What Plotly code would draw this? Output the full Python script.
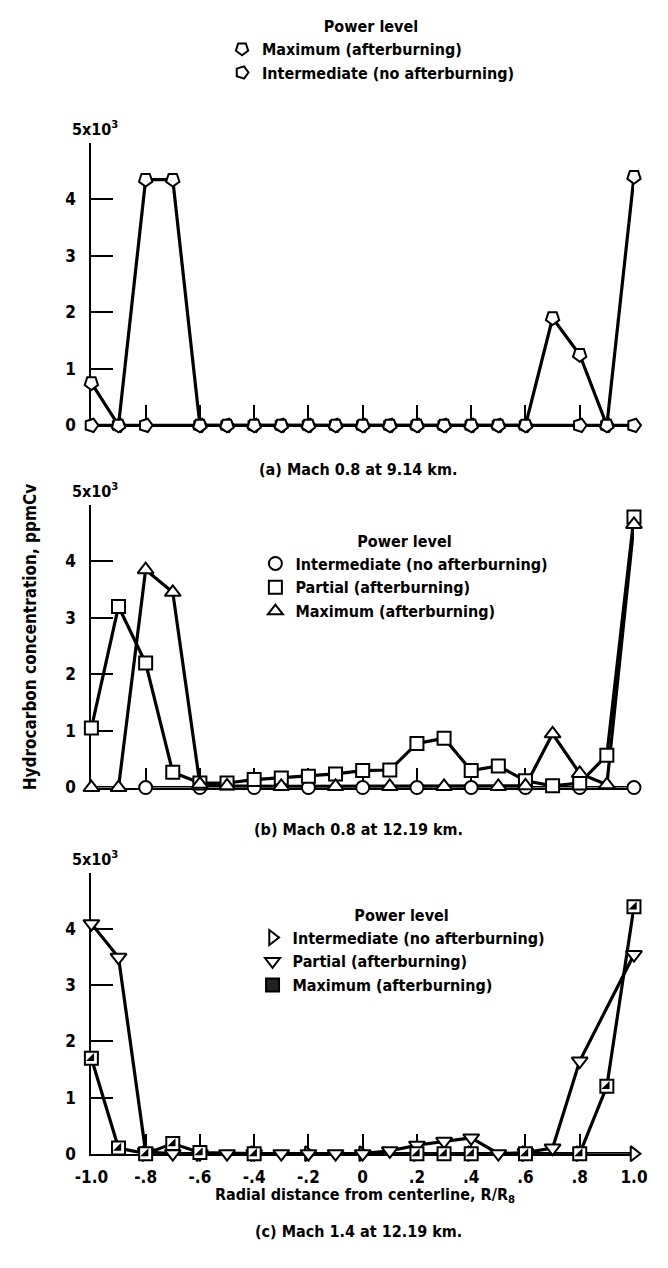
import plotly.graph_objects as go

W, H = 668, 1268

# ---------------- data (hydrocarbon concentration, thousands of ppmCv) ----------------
radial_positions = [-1.0, -0.9, -0.8, -0.7, -0.6, -0.5, -0.4, -0.3, -0.2, -0.1, 0.0,
                    0.1, 0.2, 0.3, 0.4, 0.5, 0.6, 0.7, 0.8, 0.9, 1.0]

# (a) Mach 0.8 at 9.14 km
a_max_x = radial_positions
a_max_y = [0.75, 0.0, 4.35, 4.35, 0.0, 0.0, 0.0, 0.0, 0.0, 0.0, 0.0,
           0.0, 0.0, 0.0, 0.0, 0.0, 0.0, 1.9, 1.25, 0.0, 4.4]
a_int_x = [-1.0, -0.9, -0.8, -0.6, -0.5, -0.4, -0.3, -0.2, -0.1, 0.0,
           0.1, 0.2, 0.3, 0.4, 0.5, 0.6, 0.8, 0.9, 1.0]
a_int_y = [0.0, 0.0, 0.0, 0.0, 0.0, 0.0, 0.0, 0.0, 0.0, 0.0,
           0.0, 0.0, 0.0, 0.0, 0.0, 0.0, 0.0, 0.0, 0.0]

# (b) Mach 0.8 at 12.19 km
b_int_x = [-0.8, -0.6, -0.4, -0.2, 0.0, 0.2, 0.4, 0.6, 0.8, 1.0]
b_int_y = [0.0, 0.0, 0.0, 0.0, 0.0, 0.0, 0.0, 0.0, 0.0, 0.0]
b_par_x = radial_positions
b_par_y = [1.05, 3.2, 2.2, 0.27, 0.08, 0.08, 0.14, 0.17, 0.2, 0.24, 0.3,
           0.31, 0.78, 0.87, 0.3, 0.38, 0.12, 0.03, 0.08, 0.57, 4.78]
b_max_x = [-1.0, -0.9, -0.8, -0.7, -0.6, -0.5, -0.3, -0.1, 0.1, 0.3, 0.5, 0.6,
           0.7, 0.8, 0.9, 1.0]
b_max_y = [0.0, 0.0, 3.85, 3.45, 0.06, 0.03, 0.02, 0.02, 0.02, 0.02, 0.02, 0.03,
           0.95, 0.25, 0.05, 4.65]

# (c) Mach 1.4 at 12.19 km
c_int_x = [-0.8, -0.6, -0.4, -0.2, 0.0, 0.2, 0.4, 0.6, 0.8, 1.0]
c_int_y = [0.0, 0.0, 0.0, 0.0, 0.0, 0.0, 0.0, 0.0, 0.0, 0.0]
c_par_x = [-1.0, -0.9, -0.8, -0.7, -0.6, -0.5, -0.4, -0.3, -0.2, -0.1, 0.0,
           0.1, 0.2, 0.3, 0.4, 0.5, 0.6, 0.7, 0.8, 1.0]
c_par_y = [4.1, 3.5, 0.03, 0.0, 0.0, 0.0, 0.0, 0.0, 0.0, 0.0, 0.0,
           0.05, 0.15, 0.22, 0.28, 0.0, 0.02, 0.1, 1.65, 3.55]
c_max_x = [-1.0, -0.9, -0.8, -0.7, -0.6, -0.4, 0.2, 0.3, 0.4, 0.6, 0.8, 0.9, 1.0]
c_max_y = [1.7, 0.1, 0.0, 0.18, 0.02, 0.0, 0.0, 0.0, 0.0, 0.0, 0.0, 1.2, 4.4]

x_tick_vals = [-1.0, -0.8, -0.6, -0.4, -0.2, 0.0, 0.2, 0.4, 0.6, 0.8, 1.0]
x_tick_text = ["-1.0", "-.8", "-.6", "-.4", "-.2", "0", ".2", ".4", ".6", ".8", "1.0"]
y_tick_vals = [0, 1, 2, 3, 4, 5]
y_tick_text = ["0", "1", "2", "3", "4", " "]

# ---------------- styling ----------------
FONT = "DejaVu Sans Condensed, Liberation Sans Narrow, sans-serif"
BLACK = "black"
LW = 3.2
MS = 13
TXT = 16


def px_x(p):
    return p / W


def px_y(p):
    return 1 - p / H


def tfont(size=TXT):
    return dict(family=FONT, size=size, color=BLACK, weight="bold")


fig = go.Figure()


def line_trace(x, y, ax):
    fig.add_trace(go.Scatter(x=x, y=y, mode="lines", xaxis=ax[0], yaxis=ax[1],
                             line=dict(color=BLACK, width=LW), showlegend=False,
                             cliponaxis=False, hoverinfo="skip"))


def marker_trace(x, y, ax, symbol, angle=0, size=MS, color="white", lw=2):
    fig.add_trace(go.Scatter(x=x, y=y, mode="markers", xaxis=ax[0], yaxis=ax[1],
                             marker=dict(symbol=symbol, angle=angle, size=size, color=color,
                                         line=dict(color=BLACK, width=lw)),
                             showlegend=False, cliponaxis=False))


def legend_trace(name, legend, symbol, angle=0, size=MS, color="white"):
    fig.add_trace(go.Scatter(x=[None], y=[None], mode="markers", name=name, legend=legend,
                             marker=dict(symbol=symbol, angle=angle, size=size, color=color,
                                         line=dict(color=BLACK, width=2)),
                             showlegend=True))


A = ("x", "y")
B = ("x2", "y2")
C = ("x3", "y3")

# panel a
line_trace(a_int_x, a_int_y, A)
line_trace(a_max_x, a_max_y, A)
marker_trace(a_int_x, a_int_y, A, "pentagon", angle=90, size=14)
marker_trace(a_max_x, a_max_y, A, "pentagon", angle=180, size=14)

# panel b
line_trace(b_int_x, b_int_y, B)
line_trace(b_par_x, b_par_y, B)
line_trace(b_max_x, b_max_y, B)
marker_trace(b_int_x, b_int_y, B, "circle", size=13)
marker_trace(b_par_x, b_par_y, B, "square", size=13)
marker_trace(b_max_x, b_max_y, B, "triangle-up", size=14)

# panel c
line_trace(c_int_x, c_int_y, C)
line_trace(c_par_x, c_par_y, C)
line_trace(c_max_x, c_max_y, C)
marker_trace(c_int_x, c_int_y, C, "triangle-right", size=13)
marker_trace(c_par_x, c_par_y, C, "triangle-down", size=14)
marker_trace(c_max_x, c_max_y, C, "square", size=13)
marker_trace(c_max_x, c_max_y, C, "triangle-se", size=9, color=BLACK, lw=0)

# legends
legend_trace("Maximum (afterburning)", "legend", "pentagon", angle=180)
legend_trace("Intermediate (no afterburning)", "legend", "pentagon", angle=90)
legend_trace("Intermediate (no afterburning)", "legend2", "circle")
legend_trace("Partial (afterburning)", "legend2", "square")
legend_trace("Maximum (afterburning)", "legend2", "triangle-up")
legend_trace("Intermediate (no afterburning)", "legend3", "triangle-right")
legend_trace("Partial (afterburning)", "legend3", "triangle-down")
legend_trace("Maximum (afterburning)", "legend3", "square", color="#222222")

# ---------------- axes ----------------
X_DOMAIN = [px_x(78), px_x(647)]
panels = {
    "a": (422, 135),
    "b": (790, 502.5),
    "c": (1162, 877),
}


def xaxis_cfg(show_labels):
    return dict(domain=X_DOMAIN, range=[-1.0, 1.0], showgrid=False, zeroline=False,
                showline=True, linecolor=BLACK, linewidth=2,
                ticks="inside", ticklen=20, tickwidth=1.5, tickcolor=BLACK,
                tickvals=x_tick_vals, ticktext=x_tick_text, showticklabels=show_labels,
                tickfont=tfont(17), ticklabelstandoff=7, layer="below traces", fixedrange=True)


def yaxis_cfg(bottom, top, anchor):
    return dict(domain=[px_y(bottom), px_y(top)], range=[0, 5], anchor=anchor,
                showgrid=False, zeroline=False, showline=True, linecolor=BLACK, linewidth=2,
                ticks="inside", ticklen=22, tickwidth=2, tickcolor=BLACK,
                tickvals=y_tick_vals, ticktext=y_tick_text, tickfont=tfont(17),
                ticklabelstandoff=10, layer="below traces", fixedrange=True)


fig.update_layout(
    xaxis=dict(xaxis_cfg(False), anchor="y"),
    yaxis=yaxis_cfg(*panels["a"], "x"),
    xaxis2=dict(xaxis_cfg(False), anchor="y2"),
    yaxis2=yaxis_cfg(*panels["b"], "x2"),
    xaxis3=dict(xaxis_cfg(True), anchor="y3"),
    yaxis3=yaxis_cfg(*panels["c"], "x3"),
)

legend_common = dict(xanchor="left", yanchor="top", bgcolor="rgba(0,0,0,0)",
                     font=tfont(), title=dict(text="Power level", side="top center", font=tfont()),
                     itemwidth=30, tracegroupgap=0, traceorder="normal")

fig.update_layout(
    legend=dict(legend_common, x=px_x(215), y=px_y(1)),
    legend2=dict(legend_common, x=px_x(250), y=px_y(524)),
    legend3=dict(legend_common, x=px_x(247), y=px_y(904)),
)

# ---------------- annotations ----------------
ann = []
for key in ("a", "b", "c"):
    bottom, top = panels[key]
    ann.append(dict(text="5x10<sup>3</sup>", x=px_x(56), y=px_y(top - 2), xref="paper", yref="paper",
                    xanchor="left", yanchor="bottom", showarrow=False, font=tfont(16)))

captions = [
    ("(a) Mach 0.8 at 9.14 km.", 467),
    ("(b) Mach 0.8 at 12.19 km.", 833),
    ("(c) Mach 1.4 at 12.19 km.", 1241),
]
for text, yp in captions:
    ann.append(dict(text=text, x=px_x(358), y=px_y(yp), xref="paper", yref="paper",
                    xanchor="center", yanchor="middle", showarrow=False, font=tfont()))

ann.append(dict(text="Radial distance from centerline, R/R<sub>8</sub>", x=px_x(365), y=px_y(1205),
                xref="paper", yref="paper", xanchor="center", yanchor="middle", showarrow=False,
                font=tfont()))
ann.append(dict(text="Hydrocarbon concentration, ppmCv", x=px_x(14), y=px_y(637),
                xref="paper", yref="paper", xanchor="center", yanchor="middle", showarrow=False,
                textangle=-90, font=tfont(17)))

fig.update_layout(
    annotations=ann,
    width=W, height=H,
    margin=dict(l=0, r=0, t=0, b=0),
    paper_bgcolor="white", plot_bgcolor="white",
    font=dict(family=FONT, color=BLACK),
)

fig.write_html("out.html", config={"displayModeBar": False})
